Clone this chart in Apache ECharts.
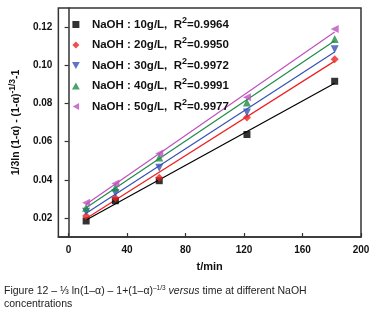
<!DOCTYPE html>
<html>
<head>
<meta charset="utf-8">
<script src="https://cdn.jsdelivr.net/npm/echarts@6/dist/echarts.min.js"></script>
<style>
  html, body { margin: 0; padding: 0; background: #fff; }
  #chart { width: 382px; height: 315px; }
</style>
</head>
<body>
<div id="chart"></div>
<script>
// time points (min)
const times = [12, 32, 62, 122, 182];

// 1/3ln(1-a)-(1-a)^-1/3-1 values
const naoh10 = [0.0184, 0.0290, 0.0395, 0.0637, 0.0916];
const naoh20 = [0.0210, 0.0305, 0.0410, 0.0726, 0.1032];
const naoh30 = [0.0232, 0.0330, 0.0463, 0.0753, 0.1084];
const naoh40 = [0.0253, 0.0360, 0.0516, 0.0805, 0.1137];
const naoh50 = [0.0279, 0.0380, 0.0537, 0.0832, 0.1190];

const seriesNames = ['NaOH : 10g/L', 'NaOH : 20g/L', 'NaOH : 30g/L', 'NaOH : 40g/L', 'NaOH : 50g/L'];
const r2Values = ['0.9964', '0.9950', '0.9972', '0.9991', '0.9977'];
const xTicks = [0, 40, 80, 120, 160, 200];
const yTicks = [0.02, 0.04, 0.06, 0.08, 0.10, 0.12];

const colors = ['#000000', '#ee2222', '#3452b4', '#1e8c44', '#c050c0'];
const symbols = [
  'path://M0,0 L10,0 L10,10 L0,10 Z',
  'path://M5,0 L10,5 L5,10 L0,5 Z',
  'path://M0,0 L10,0 L5,9 Z',
  'path://M5,0 L10,9 L0,9 Z',
  'path://M9,0 L9,10 L0,5 Z'
];
const allData = [naoh10, naoh20, naoh30, naoh40, naoh50];

// least-squares fit line through each data set
function fitLine(xs, ys) {
  const n = xs.length;
  let sx = 0, sy = 0, sxx = 0, sxy = 0;
  for (let i = 0; i < n; i++) {
    sx += xs[i]; sy += ys[i]; sxx += xs[i] * xs[i]; sxy += xs[i] * ys[i];
  }
  const k = (n * sxy - sx * sy) / (n * sxx - sx * sx);
  const b = (sy - k * sx) / n;
  return [[xs[0], k * xs[0] + b], [xs[n - 1], k * xs[n - 1] + b]];
}

const chart = echarts.init(document.getElementById('chart'));

const series = [];
allData.forEach((ys, i) => {
  series.push({
    name: seriesNames[i],
    type: 'scatter',
    data: times.map((t, j) => [t, ys[j]]),
    symbol: symbols[i],
    symbolSize: i === 0 ? 7 : 8,
    itemStyle: { color: colors[i] },
    z: 3
  });
  series.push({
    name: seriesNames[i] + ' fit',
    type: 'line',
    data: fitLine(times, ys),
    showSymbol: false,
    symbol: 'none',
    lineStyle: { color: colors[i], width: 1.2 },
    z: 2
  });
});

chart.setOption({
  animation: false,
  textStyle: { fontFamily: 'Liberation Sans, Arial, sans-serif' },
  grid: { left: 57, top: 8, right: 21, bottom: 78, show: true, borderColor: '#333', borderWidth: 1.5 },
  legend: {
    data: seriesNames,
    orient: 'vertical',
    left: 67,
    top: 11,
    itemGap: 6,
    itemWidth: 22,
    itemHeight: 7,
    symbolKeepAspect: true,
    formatter: name => {
      const i = seriesNames.indexOf(name);
      return '{t|' + name + ',  R}{s|2}{t|=' + r2Values[i] + '}';
    },
    textStyle: {
      rich: {
        t: { fontSize: 11.5, fontWeight: 'bold', color: '#111' },
        s: { fontSize: 9, fontWeight: 'bold', color: '#111', verticalAlign: 'top', padding: [0, 0, 8, 0] }
      }
    }
  },
  xAxis: {
    type: 'value',
    min: -7,
    max: 200,
    interval: 40,
    name: 't/min',
    nameLocation: 'middle',
    nameGap: 24,
    nameTextStyle: { fontSize: 11, fontWeight: 'bold', color: '#111' },
    axisLine: { lineStyle: { color: '#333', width: 1.5 } },
    axisTick: { inside: true, length: 4, lineStyle: { color: '#333', width: 1.2 }, customValues: xTicks },
    axisLabel: { fontSize: 10, fontWeight: 'bold', color: '#111', margin: 8, customValues: xTicks },
    splitLine: { show: false }
  },
  yAxis: {
    type: 'value',
    min: 0.01,
    max: 0.13,
    name: '{t|1/3ln (1-α) - (1-α)}{s|-1/3}{t|-1}',
    nameLocation: 'middle',
    nameGap: 28,
    nameTextStyle: {
      rich: {
        t: { fontSize: 10.5, fontWeight: 'bold', color: '#111' },
        s: { fontSize: 8.5, fontWeight: 'bold', color: '#111', verticalAlign: 'top', padding: [0, 0, 8, 0] }
      }
    },
    axisLine: { lineStyle: { color: '#333', width: 1.5 } },
    axisTick: { inside: false, length: 4, lineStyle: { color: '#333', width: 1.2 }, customValues: yTicks },
    axisLabel: { fontSize: 10, fontWeight: 'bold', color: '#111', margin: 6, customValues: yTicks, formatter: v => v.toFixed(2) },
    splitLine: { show: false }
  },
  series: series,
  graphic: [
    {
      type: 'text',
      left: 4,
      top: 285,
      style: {
        text: '{n|Figure 12 – ⅓ ln(1–α) – 1+(1–α)}{s|–1/3}{n| }{i|versus}{n| time at different NaOH}\n{n|concentrations}',
        rich: {
          n: { fontSize: 10.5, fill: '#222', fontFamily: 'Liberation Sans, Arial, sans-serif', lineHeight: 13 },
          s: { fontSize: 6.5, fill: '#222', fontFamily: 'Liberation Sans, Arial, sans-serif', verticalAlign: 'top', lineHeight: 13 },
          i: { fontSize: 10.5, fill: '#222', fontStyle: 'italic', fontFamily: 'Liberation Sans, Arial, sans-serif', lineHeight: 13 }
        }
      }
    }
  ]
});
</script>
</body>
</html>
